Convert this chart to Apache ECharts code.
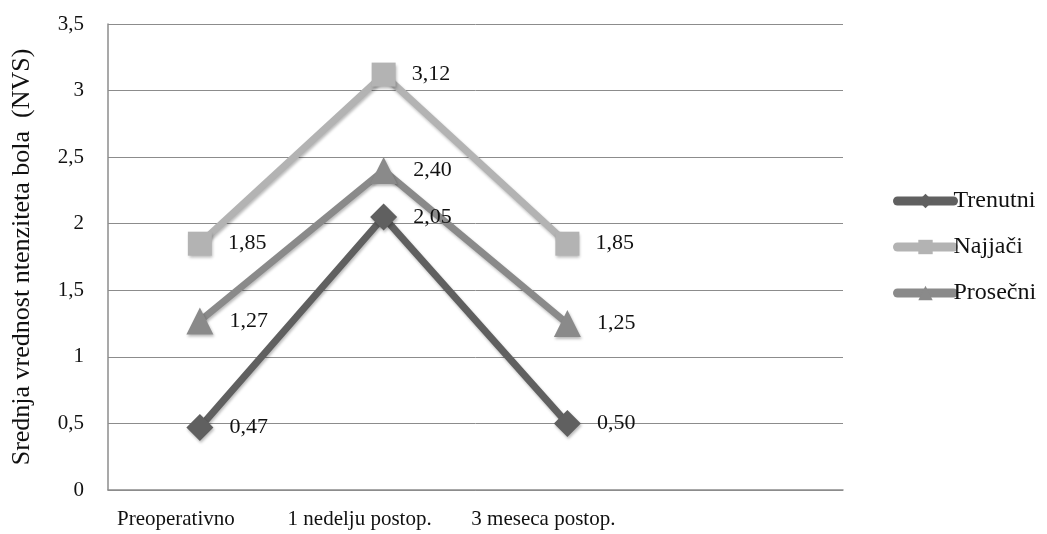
<!DOCTYPE html>
<html>
<head>
<meta charset="utf-8">
<script src="https://cdn.jsdelivr.net/npm/echarts@6/dist/echarts.min.js"></script>
<style>
  html, body { margin: 0; padding: 0; background: #fff; }
  #chart { width: 1047px; height: 534px; }
</style>
</head>
<body>
<div id="chart"></div>
<script>
// Time points (the fourth slot is left empty)
const categories = ['Preoperativno', '1 nedelju postop.', '3 meseca postop.', ''];

// Mean pain intensity (NVS) per series
const trenutni = [0.47, 2.05, 0.50];
const najjaci = [1.85, 3.12, 1.85];
const prosecni = [1.27, 2.40, 1.25];

const seriesNames = ['Trenutni', 'Najjači', 'Prosečni'];
const seriesColors = ['#606060', '#b3b3b3', '#8a8a8a'];
const seriesSymbols = ['diamond', 'rect', 'triangle'];

const FONT = '"Liberation Serif", "DejaVu Serif", serif';
const comma = (v, d) => (d == null ? String(v) : v.toFixed(d)).replace('.', ',');

const shadow = {
  shadowColor: 'rgba(0,0,0,0.28)',
  shadowBlur: 3,
  shadowOffsetX: 1,
  shadowOffsetY: 2
};

function makeSeries(name, data, color, symbol) {
  return {
    name: name,
    type: 'line',
    data: data,
    symbol: symbol,
    symbolSize: symbol === 'rect' ? 24 : 27,
    color: color,
    lineStyle: Object.assign({ width: 7, color: color }, shadow),
    itemStyle: Object.assign({ color: color }, shadow),
    label: {
      show: true,
      position: 'right',
      distance: 16,
      fontFamily: FONT,
      fontSize: 22,
      color: '#111',
      formatter: p => comma(p.value, 2)
    },
    emphasis: { disabled: true },
    animation: false
  };
}

const chart = echarts.init(document.getElementById('chart'), null, { renderer: 'canvas' });
chart.setOption({
  backgroundColor: '#fff',
  animation: false,
  grid: { left: 108, right: 204, top: 24, bottom: 44, outerBoundsMode: 'none', containLabel: false },
  legend: {
    orient: 'vertical',
    left: 888,
    top: 184,
    itemGap: 22,
    itemWidth: 56,
    itemHeight: 18,
    lineStyle: { width: 9, cap: 'round' },
    textStyle: { fontFamily: FONT, fontSize: 24, color: '#111', padding: [0, 0, 0, -5] },
    data: seriesNames
  },
  xAxis: {
    type: 'category',
    data: categories,
    boundaryGap: true,
    axisLine: { lineStyle: { color: '#8c8c8c', width: 1.5 } },
    axisTick: { show: false },
    axisLabel: {
      fontFamily: FONT, fontSize: 21, color: '#111', margin: 19, interval: 0,
      padding: [0, 48, 0, 0]
    },
    splitLine: { show: false }
  },
  yAxis: {
    type: 'value',
    min: 0,
    max: 3.5,
    interval: 0.5,
    name: 'Srednja vrednost ntenziteta bola  (NVS)',
    nameLocation: 'middle',
    nameGap: 73,
    nameRotate: 90,
    nameTextStyle: { fontFamily: FONT, fontSize: 26, color: '#111' },
    axisLine: { show: true, lineStyle: { color: '#8c8c8c', width: 1.5 } },
    axisTick: { show: false },
    axisLabel: { fontFamily: FONT, fontSize: 21, color: '#111', margin: 24, formatter: v => comma(v) },
    splitLine: { lineStyle: { color: '#8c8c8c', width: 1 } }
  },
  series: [
    makeSeries(seriesNames[0], trenutni, seriesColors[0], seriesSymbols[0]),
    makeSeries(seriesNames[1], najjaci, seriesColors[1], seriesSymbols[1]),
    makeSeries(seriesNames[2], prosecni, seriesColors[2], seriesSymbols[2])
  ]
});
</script>
</body>
</html>
